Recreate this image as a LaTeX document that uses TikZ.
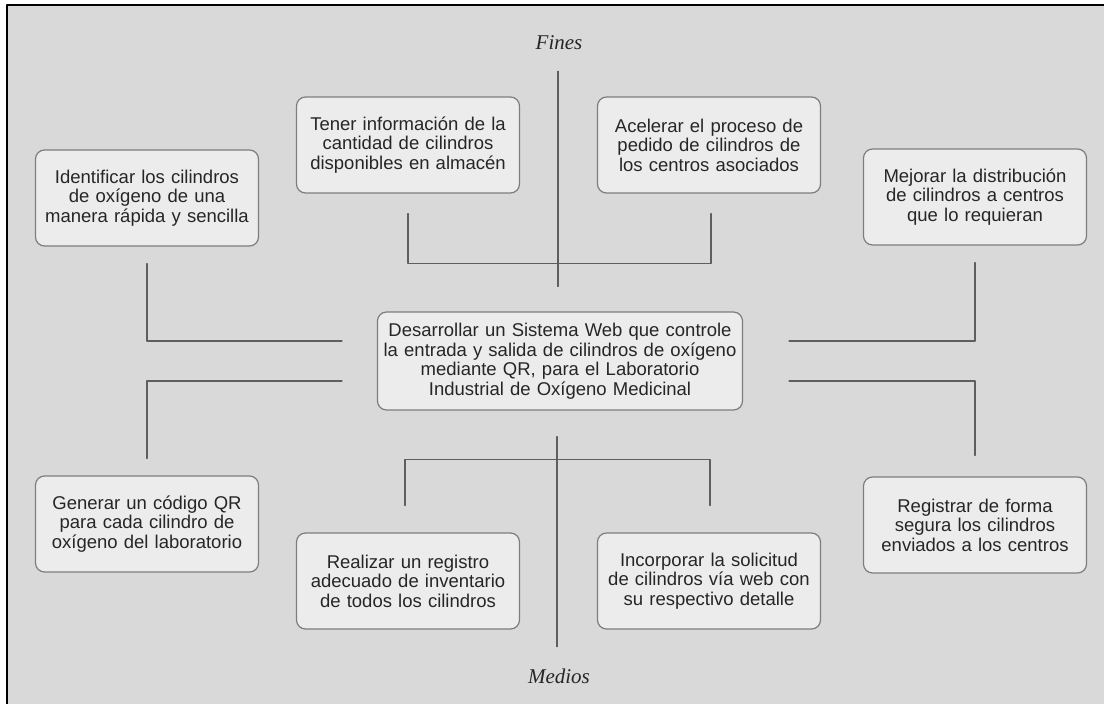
\documentclass[tikz,border=0pt]{standalone}
\usepackage{fontspec}
\setmainfont{Liberation Sans}
\newfontfamily\headfont{Liberation Serif}
\usetikzlibrary{calc}

\definecolor{paper}{HTML}{D9D9D9}
\definecolor{boxfill}{HTML}{ECECEC}
\definecolor{boxline}{HTML}{7E7E7E}
\definecolor{linkline}{HTML}{5E5E5E}

\begin{document}
\begin{tikzpicture}[
    x=1pt, y=-1pt,
    line cap=round,
    line join=round,
    box/.style={draw=boxline, fill=boxfill, line width=1.2pt, rounded corners=9pt,
        minimum width=223pt, minimum height=96pt, text width=215pt, align=center,
        inner sep=0pt, text=black!85, font=\fontsize{18.5}{19.5}\selectfont},
    link/.style={draw=linkline, line width=1.4pt},
    heading/.style={font=\headfont\itshape\fontsize{21}{24}\selectfont, text=black!85}
]

% Page and frame
\useasboundingbox (0,0) rectangle (1104,704);
\fill[paper] (7,5) rectangle (1104,704);
\draw[line width=2.6pt, line cap=butt] (7,704) -- (7,5) -- (1104,5);

% Headings
\node[heading] (fines) at (559,43) {Fines};
\node[heading] (medios) at (559,676) {Medios};

% Central goal
\node[box, minimum width=365pt, minimum height=98pt, text width=355pt] (centro) at (560,361)
    {Desarrollar un Sistema Web que controle\\
     la entrada y salida de cilindros de oxígeno\\
     mediante QR, para el Laboratorio\\
     Industrial de Oxígeno Medicinal};

% Ends
\node[box] (identificar) at (147,198)
    {Identificar los cilindros\\ de oxígeno de una\\ manera rápida y sencilla};
\node[box] (tener) at (408,145)
    {Tener información de la\\ cantidad de cilindros\\ disponibles en almacén};
\node[box] (acelerar) at (709,145)
    {Acelerar el proceso de\\ pedido de cilindros de\\ los centros asociados};
\node[box] (mejorar) at (975,197)
    {Mejorar la distribución\\ de cilindros a centros\\ que lo requieran};

% Means
\node[box] (generar) at (147,524)
    {Generar un código QR\\ para cada cilindro de\\ oxígeno del laboratorio};
\node[box] (realizar) at (408,581)
    {Realizar un registro\\ adecuado de inventario\\ de todos los cilindros};
\node[box] (incorporar) at (709,581)
    {Incorporar la solicitud\\ de cilindros vía web con\\ su respectivo detalle};
\node[box] (registrar) at (975,525)
    {Registrar de forma\\ segura los cilindros\\ enviados a los centros};

% Main axis
\draw[link] ($(centro.north)+(-2,-240)$) -- ($(centro.north)+(-2,-25)$);
\draw[link] ($(centro.south)+(-3,26)$) -- ($(centro.south)+(-3,236)$);

% Upper links
\draw[link] ($(tener.south)+(0,20)$) -- ++(0,50) -| ($(acelerar.south)+(2,20)$);
\draw[link] ($(identificar.south)+(0,17)$) |- ($(centro.west)+(-35,-20)$);
\draw[link] ($(centro.east)+(46,-20)$) -| ($(mejorar.south)+(0,17)$);

% Lower links
\draw[link] ($(centro.west)+(-35,20)$) -| ($(generar.north)+(0,-17)$);
\draw[link] ($(centro.east)+(46,20)$) -| ($(registrar.north)+(0,-21)$);
\draw[link] ($(realizar.north)+(-3,-27)$) -- ++(0,-46) -| ($(incorporar.north)+(1,-27)$);

\end{tikzpicture}
\end{document}
